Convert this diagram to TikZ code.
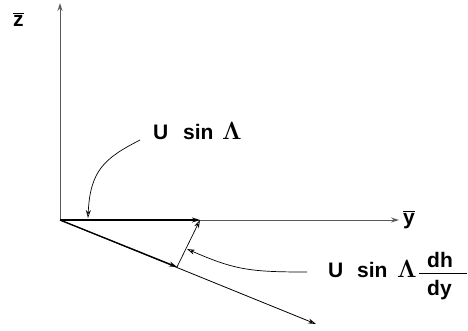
\documentclass[tikz,border=0pt]{standalone}
\usepackage{fontspec}
\setmainfont{Liberation Sans}
\usetikzlibrary{arrows.meta}
\newcommand{\bigLam}{{\fontsize{23}{26}\selectfont\boldmath$\Lambda$}}
\begin{document}
\begin{tikzpicture}[x=1pt,y=-1pt,
  axis/.style={draw=black!65,line width=0.9pt,-{Stealth[length=8pt,width=5pt,open]}},
  vec/.style={draw=black,line width=1.3pt,-{Stealth[length=8pt,width=5pt,open]}},
  lead/.style={draw=black,line width=0.7pt,-{Stealth[length=8pt,width=5pt,open]}},
  lbl/.style={font=\fontsize{21}{24}\selectfont\bfseries,inner sep=0pt,anchor=base west}]
\useasboundingbox (0,0) rectangle (468,330);
\coordinate (O) at (60,220);
\coordinate (ztip) at (60,3);
\coordinate (ytip) at (399,220);
\coordinate (stip) at (316,324);
\coordinate (A) at (200,220);
\coordinate (B) at (177,267);
\draw[axis] (O) -- (ztip);
\draw[axis] (O) -- (ytip);
\draw[axis,draw=black,line width=0.8pt] (O) -- (stip);
\draw[vec] (O) -- (A);
\draw[vec] (O) -- (B);
\draw[lead] (B) -- (A);
\node[lbl] (zl) at (13,26) {$\overline{\mbox{\bfseries z}}$};
\node[lbl] (yl) at (403,224) {$\overline{\mbox{\bfseries y}}$};
\node[lbl] (l1) at (153,139) {\makebox[30pt][l]{U}\makebox[39pt][l]{sin}\bigLam};
\node[lbl] (l2) at (328,277) {\makebox[29pt][l]{U}\makebox[40pt][l]{sin}\bigLam};
\node[lbl] (num) at (427,267) {dh};
\node[lbl] (den) at (427,295) {dy};
\coordinate (barL) at (419,273);
\coordinate (barR) at (467,273);
\draw[line width=1pt] (barL) -- (barR);
\coordinate (c1) at (140,140);
\coordinate (c1e) at (88,218);
\coordinate (c2) at (307,272);
\coordinate (c2e) at (187,249);
\draw[lead] (c1) .. controls (105,158) and (90,170) .. (c1e);
\draw[lead] (c2) .. controls (250,272) and (235,270) .. (c2e);
\end{tikzpicture}
\end{document}
